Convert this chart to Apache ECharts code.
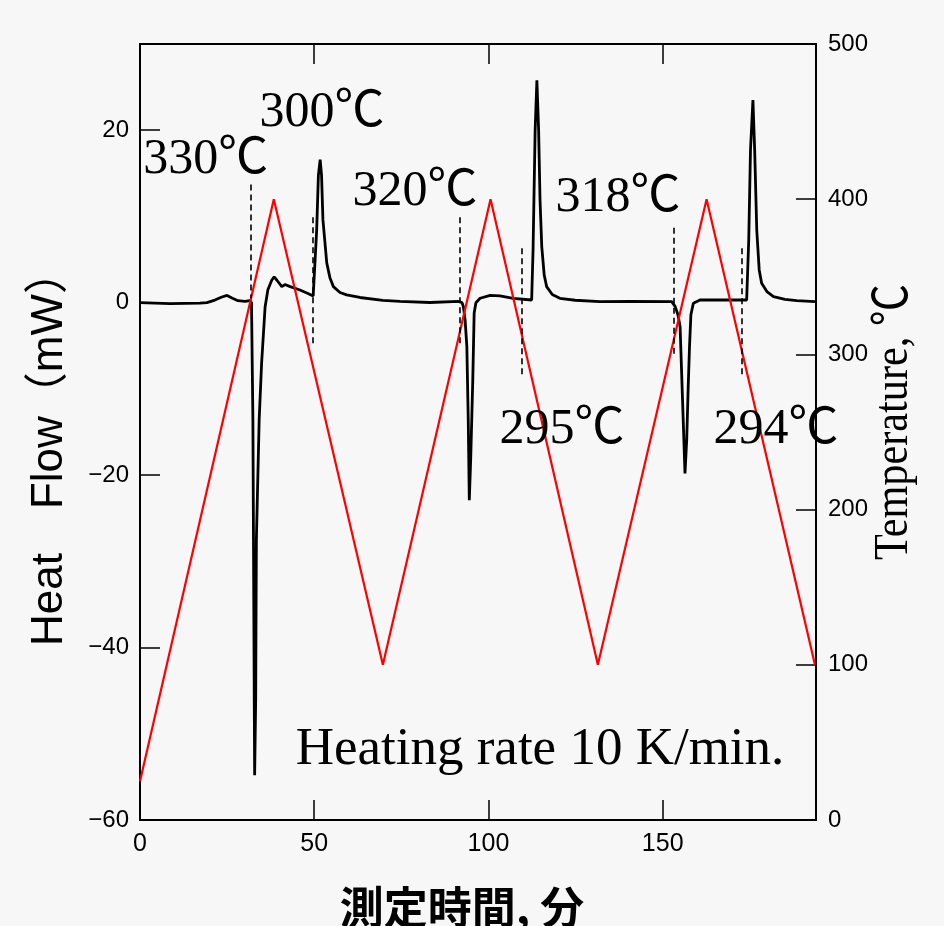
<!DOCTYPE html>
<html><head><meta charset="utf-8">
<script src="https://cdn.jsdelivr.net/npm/echarts@6.0.0/dist/echarts.min.js"></script>
<style>html,body{margin:0;padding:0;background:#f7f7f7;}#c{width:944px;height:926px;}</style>
</head><body><div id="c"></div>
<script>
// ---- data ----
const timeHF = [0,8.6,17.2,19.2,21.5,23.5,25.0,26.4,28.1,30.1,31.6,32.0,32.4,32.9,33.2,33.4,34.2,34.9,35.9,36.7,37.8,38.5,39.3,40.7,41.6,43.1,45.9,48.2,49.7,50.1,50.7,51.2,51.7,52.1,52.5,53.6,54.5,55.5,57.4,59.3,63.1,69.7,74.6,83.2,91.4,92.4,92.8,93.3,93.8,94.2,94.5,94.9,95.2,95.5,95.9,96.4,97.6,100.5,103.3,107.1,112.4,112.8,113.4,113.9,114.4,114.8,115.3,116.0,116.7,118.3,120.5,124.9,132.0,140.6,152.6,153.6,154.4,155.0,155.7,156.4,156.9,157.3,157.7,158.1,158.8,160.7,166.5,174.1,174.7,175.2,175.9,176.4,177.0,177.7,178.4,180.0,181.8,185.1,188.5,193.7];
const heatFlow = [0,-0.1,-0.05,0,0.3,0.66,0.84,0.55,0.23,0.14,0.25,0,-13.6,-54.8,-46,-27.5,-13.6,-7.0,-0.5,1.5,2.6,3.0,2.6,1.86,2.1,1.86,1.47,1.07,0.78,1.0,8.4,14.8,16.6,14.8,9.6,4.6,2.9,1.86,1.18,0.9,0.6,0.26,0.14,0.02,0.14,0.02,-0.46,-2.0,-5.1,-13.6,-22.9,-18.2,-13.6,-9.0,-1.2,0,0.51,0.84,0.78,0.51,0.31,6.1,20.0,25.8,20.0,11.9,6.5,3.2,1.86,0.95,0.51,0.28,0.12,0.16,0.12,-0.46,-1.43,-2.8,-11.3,-19.8,-15.9,-10.1,-5.1,-1.4,-0.07,0.31,0.31,0.31,7.3,17.7,23.5,17.7,8.4,3.8,2.25,1.24,0.7,0.37,0.23,0.12];
const timeTemp = [0,38.4,69.7,100.6,131.4,162.6,193.7];
const temperature = [25,400,100,400,100,400,100];
// dashed onset markers (time, top / bottom in mW)
const dashTime = [31.8,49.6,91.8,109.6,153.3,172.8];
const dashTop = [13.7,9.9,9.9,6.3,8.7,6.3];
const dashBottom = [0.5,-4.8,-4.8,-8.4,-6.0,-8.4];
// annotation texts and anchor (time, mW)
const noteText = ['330℃','300℃','320℃','318℃','295℃','294℃','Heating rate 10 K/min.'];
const noteTime = [18.9,52.2,78.9,137.2,121.1,182.5,114.8];
const noteHF = [16.55,22.0,12.83,12.14,-14.77,-14.77,-51.9];

const xMin=0,xMax=194,xInt=50;
const yMin=-60,yMax=30,yInt=20;
const tMin=0,tMax=500,tInt=100;

const chart = echarts.init(document.getElementById('c'));
const black='#000';
const minus = v => String(v).replace('-', '\u2212');
const tickLabelFont = '"Liberation Sans", Arial, sans-serif';
const baseAxis = {
  type:'value', splitLine:{show:false},
  axisLine:{show:true,onZero:false,lineStyle:{color:black,width:2}},
  axisTick:{show:true,inside:true,length:20,lineStyle:{color:black,width:1.5}},
};
chart.setOption({
  animation:false,
  backgroundColor:'#f7f7f7',
  grid:{left:140,right:128,top:44,bottom:106,containLabel:false},
  xAxis:[
    Object.assign({},baseAxis,{min:xMin,max:xMax,interval:xInt,position:'bottom',
      axisLabel:{color:black,fontSize:25,fontFamily:tickLabelFont,margin:12,showMaxLabel:false}}),
    Object.assign({},baseAxis,{min:xMin,max:xMax,interval:xInt,position:'top',axisLabel:{show:false}})
  ],
  yAxis:[
    Object.assign({},baseAxis,{min:yMin,max:yMax,interval:yInt,position:'left',
      axisLabel:{color:black,fontSize:24,fontFamily:tickLabelFont,margin:11,showMaxLabel:false,formatter:minus}}),
    Object.assign({},baseAxis,{min:tMin,max:tMax,interval:tInt,position:'right',
      axisLabel:{color:black,fontSize:24,fontFamily:tickLabelFont,margin:12}})
  ],
  series:[
    {type:'line',name:'Heat Flow',xAxisIndex:0,yAxisIndex:0,showSymbol:false,symbol:'none',
     data:timeHF.map((t,i)=>[t,heatFlow[i]]),
     lineStyle:{color:black,width:2.8},z:3,
     markLine:{silent:true,symbol:['none','none'],label:{show:false},
       lineStyle:{color:black,width:1.6,type:[6,4]},
       data:dashTime.map((t,i)=>[{coord:[t,dashTop[i]]},{coord:[t,dashBottom[i]]}])}},
    {type:'line',name:'Temperature',xAxisIndex:0,yAxisIndex:1,showSymbol:false,symbol:'none',
     data:timeTemp.map((t,i)=>[t,temperature[i]]),
     lineStyle:{color:'#ff0000',width:2.2},z:4}
  ]
});

const notes = noteText.map((s,i)=>{
  const p = chart.convertToPixel({xAxisIndex:0,yAxisIndex:0},[noteTime[i],noteHF[i]]);
  const size = i === noteText.length-1 ? 53 : 50;
  return {type:'text',x:p[0],y:p[1],z:10,
    style:{text:s,fill:black,font:size+'px "Liberation Serif", "Noto Sans CJK JP", serif',align:'center',verticalAlign:'middle'}};
});
chart.setOption({graphic:[
  ...notes,
  {type:'text',x:50,y:448,rotation:Math.PI/2,z:10,
   style:{text:'Heat\u3000Flow\uff08mW\uff09',fill:black,font:'44px "Liberation Sans", "Noto Sans CJK JP", sans-serif',align:'center',verticalAlign:'middle'}},
  {type:'text',x:894,y:422,rotation:Math.PI/2,scaleX:0.88,z:10,
   style:{text:'Temperature, ℃',fill:black,font:'48px "Liberation Serif", "Noto Sans CJK JP", serif',align:'center',verticalAlign:'middle'}},
  {type:'text',x:462,y:885,z:10,
   style:{text:'測定時間, 分',fill:black,font:'bold 44px "Noto Sans CJK JP", sans-serif',align:'center',verticalAlign:'top'}}
]});
</script></body></html>
